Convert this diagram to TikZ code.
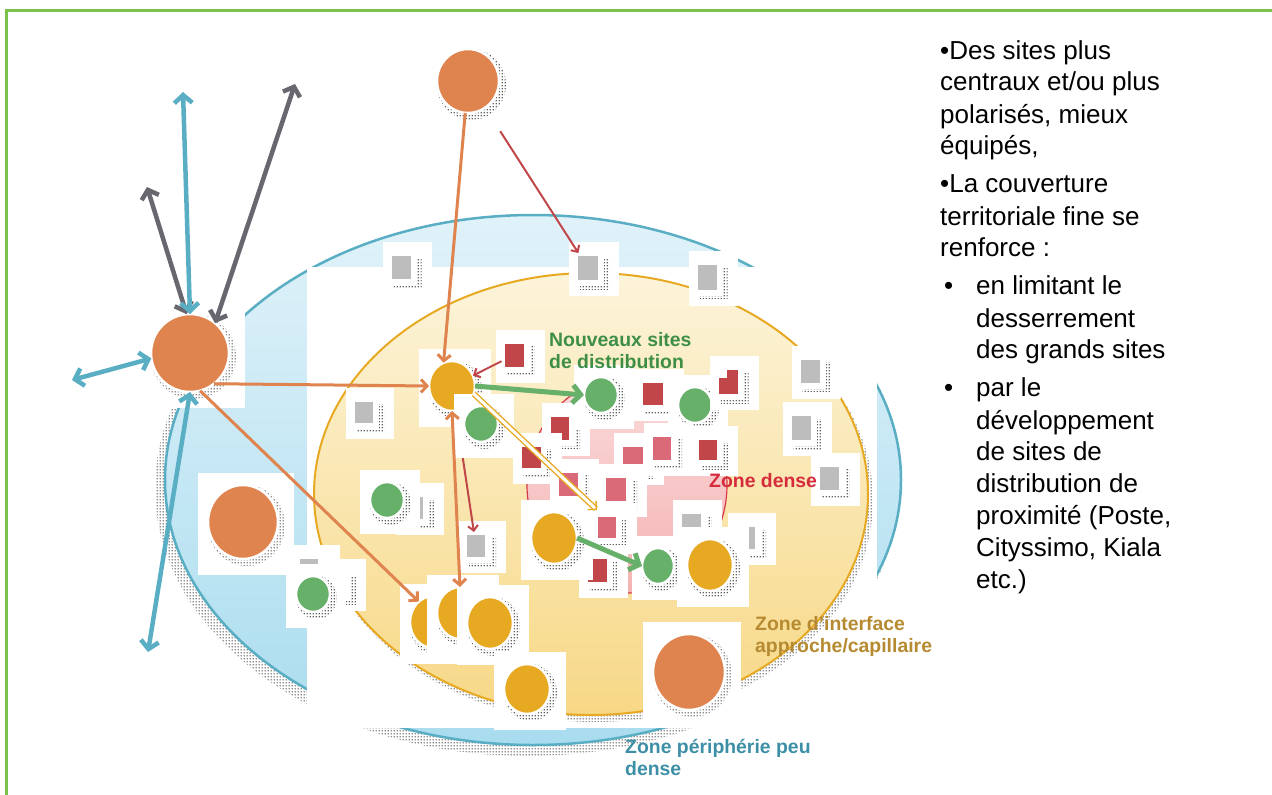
\documentclass[tikz,border=0pt]{standalone}
\usepackage{fontspec}
\setmainfont{Liberation Sans}
\usetikzlibrary{arrows.meta,shapes.geometric,patterns.meta}

\definecolor{cframe}{HTML}{7CC24A}
\definecolor{cblue}{HTML}{5AAEC4}
\definecolor{cbluetop}{HTML}{E0F2F9}
\definecolor{cbluebot}{HTML}{A9DCEF}
\definecolor{cyelline}{HTML}{E8A922}
\definecolor{cyeltop}{HTML}{FCF4DA}
\definecolor{cyelbot}{HTML}{F7D886}
\definecolor{corange}{HTML}{E0844F}
\definecolor{cyellow}{HTML}{E8A922}
\definecolor{cgreen}{HTML}{67B06A}
\definecolor{cgrey}{HTML}{BDBDBD}
\definecolor{cdred}{HTML}{C0464A}
\definecolor{cpink}{HTML}{DB6A78}
\definecolor{cdense}{HTML}{F5B3B3}
\definecolor{cdensetop}{HTML}{FADADA}
\definecolor{cdenseline}{HTML}{D63A48}
\definecolor{carrgrey}{HTML}{68676F}
\definecolor{tgreen}{HTML}{3E8F45}
\definecolor{tred}{HTML}{D52B3C}
\definecolor{tgold}{HTML}{B68A30}
\definecolor{tteal}{HTML}{3D8FA6}

% coarse halftone dots used for the drop shadows
\tikzdeclarepattern{
  name=htdots,
  type=uncolored,
  bounding box={(0pt,0pt) and (3pt,3pt)},
  tile size={(3pt,3pt)},
  code={\pgfpathcircle{\pgfpoint{1.5pt}{1.5pt}}{0.95pt}\pgfusepath{fill}}
}

\tikzset{
  halftone/.style={pattern=htdots, pattern color=black!85},
  roundicon/.style={ellipse, inner sep=0pt, outer sep=0pt, draw=white, line width=2.5pt},
  squareicon/.style={rectangle, inner sep=0pt, outer sep=0pt, draw=white, line width=6pt},
  barrow/.style={cblue, line width=4.5pt,
    {Straight Barb[length=8pt,width=18pt]}-{Straight Barb[length=8pt,width=18pt]}},
  gyarrow/.style={carrgrey, line width=4.5pt,
    {Straight Barb[length=8pt,width=18pt]}-{Straight Barb[length=8pt,width=18pt]}},
  oarrow/.style={corange, line width=3pt, -{Straight Barb[length=6pt,width=13pt]}},
  oarrowboth/.style={corange, line width=3pt,
    {Straight Barb[length=6pt,width=13pt]}-{Straight Barb[length=6pt,width=13pt]}},
  garrow/.style={cgreen, line width=5pt, -{Straight Barb[length=8pt,width=18pt]}},
  rarrow/.style={cdred, line width=2pt, -{Straight Barb[length=5pt,width=10pt]}},
  yarrow/.style={cyellow, line width=1.4pt, double=white, double distance=3pt,
    -{Straight Barb[length=6pt,width=12pt]}},
  zonelabel/.style={anchor=base west, inner sep=0pt,
    font=\fontsize{19.4}{22}\selectfont\bfseries},
}

% round site: name, x, y, x radius, y radius, colour (white backing card + halftone shadow)
\newcommand\roundsite[6]{%
  \fill[white] ({#2-#4-11},{#3-#5-13}) rectangle ({#2+#4+17},{#3+#5+17});
  \fill[halftone] ({#2+3.5},{#3+3.5}) ellipse [x radius={#4+4.5}, y radius={#5+4.5}];
  \node[roundicon, fill=#6, minimum width={2*#4+2}, minimum height={2*#5+2}] (#1) at (#2,#3) {};
}
% square site: name, x, y, half width, half height, colour
\newcommand\squaresite[6]{%
  \fill[white] ({#2-#4-9},{#3-#5-14}) rectangle ({#2+#4+21},{#3+#5+16});
  \fill[halftone] ({#2-#4+2},{#3-#5+3}) rectangle ({#2+#4+11},{#3+#5+9});
  \node[squareicon, fill=#6, minimum width={2*#4+6}, minimum height={2*#5+6}] (#1) at (#2,#3) {};
}

\begin{document}
\begin{tikzpicture}[x=1pt, y=-1pt]
\useasboundingbox (0,0) rectangle (1272,795);

% frame
\draw[cframe, line width=3pt] (6.5,795) -- (6.5,10) -- (1272,10);

% peripheral zone
\fill[halftone] (527,488) ellipse [x radius=372, y radius=268];
\path[draw=cblue, line width=2.5pt, top color=cbluetop, bottom color=cbluebot]
  (533,480) ellipse [x radius=368, y radius=265];
\fill[white] (307,267) rectangle (877,728);

% interface zone
\fill[halftone] (595,500) ellipse [x radius=278, y radius=222];
\path[draw=cyelline, line width=2pt, top color=cyeltop, bottom color=cyelbot]
  (591,494) ellipse [x radius=277, y radius=221];

% dense zone
\path[draw=cdenseline, line width=1.2pt, top color=cdensetop, bottom color=cdense]
  (627,485) ellipse [x radius=100, y radius=108];

% large sites
\roundsite{OT}{468}{81}{30}{31}{corange}
\roundsite{OL}{190}{353}{38}{38}{corange}
\roundsite{OM}{243}{522}{34}{36}{corange}

% small sites
\squaresite{GS1}{401}{267}{9.5}{11.5}{cgrey}
\squaresite{GS2}{588}{268}{10}{12}{cgrey}
\squaresite{GS3}{707}{277}{9.5}{12.5}{cgrey}
\squaresite{GS4}{364}{412}{9}{10.5}{cgrey}
\roundsite{Y1}{452}{386}{22}{24}{cyellow}
\squaresite{R1}{514}{355}{9.5}{11.5}{cdred}
\squaresite{GS5}{476}{546}{9}{11}{cgrey}
\draw[rarrow] (Y1) -- (GS5);
\roundsite{G3}{481}{424}{16}{17}{cgreen}
\squaresite{GS9}{414}{508}{9}{11}{cgrey}
\roundsite{G4}{387}{500}{16}{17}{cgreen}

% dense cluster
\squaresite{P1}{633}{458}{10}{11}{cpink}
\squaresite{R4}{560}{428}{9}{11.5}{cdred}
\squaresite{R2}{653}{394}{10}{11}{cdred}
\roundsite{G1}{601}{395}{16}{17}{cgreen}
\roundsite{G2}{695}{405}{16}{17}{cgreen}
\squaresite{R3}{728}{382}{9.5}{12}{cdred}
\fill[white] (717,368) rectangle (727,378);
\squaresite{P2}{662}{448}{9}{11.5}{cpink}
\squaresite{R6}{708}{450}{9}{10}{cdred}
\squaresite{R5}{531}{457}{9.5}{10.5}{cdred}
\squaresite{P3}{568}{484}{9.5}{11.5}{cpink}
\squaresite{P4}{616}{489}{10}{11.5}{cpink}
\squaresite{P5}{607}{527}{9}{10.5}{cpink}
\squaresite{R7}{597}{570}{9.5}{11.5}{cdred}
\squaresite{GS12}{691}{525}{9.5}{11}{cgrey}
\squaresite{GS13}{746}{538}{9}{11}{cgrey}
\roundsite{Y2}{554}{538}{22}{25}{cyellow}
\roundsite{G6}{658}{566}{15}{17}{cgreen}
\roundsite{Y3}{710}{565}{22}{25}{cyellow}

% right-hand column
\squaresite{GS6}{810}{371}{9.5}{11.5}{cgrey}
\squaresite{GS7}{801}{428}{9.5}{12}{cgrey}
\squaresite{GS8}{829}{478}{9.5}{11.5}{cgrey}

% lower-left group
\squaresite{GS10}{309}{570}{9.5}{11}{cgrey}
\squaresite{GS11}{336}{584}{9}{11}{cgrey}
\roundsite{G5}{313}{594}{16}{17}{cgreen}
\roundsite{Y4a}{433}{622}{22}{25}{cyellow}
\roundsite{Y4b}{460}{613}{22}{25}{cyellow}
\roundsite{Y4c}{490}{623}{22}{25}{cyellow}
\roundsite{Y5}{527}{689}{22}{24}{cyellow}
\roundsite{OB}{689}{672}{35}{37}{corange}

% free ends of the long-distance links
\coordinate (bUp) at (183,92);
\coordinate (bLeft) at (72,380);
\coordinate (bDown) at (148,652);
\coordinate (gLeft) at (147,187);
\coordinate (gRight) at (295,84);
\coordinate (dz) at (597,510);

% flows
\draw[rarrow] (R1) -- (Y1);
\draw[rarrow, shorten <=28pt] (OT) -- (GS2);
\draw[oarrow] (OT) -- (Y1.110);
\draw[oarrow] (OL.-52) -- (Y1.west);
\draw[oarrow] (OL.-75) -- (Y4a.125);
\draw[oarrowboth] (Y1.south) -- (Y4b.north);
\draw[garrow] (Y1.east) -- (G1.west);
\draw[garrow] (Y2.east) -- (G6.west);
\draw[yarrow] (Y1.-20) -- (dz);
\draw[gyarrow] (OL.95) -- (gLeft);
\draw[gyarrow] (OL.50) -- (gRight);
\draw[barrow] (OL.90) -- (bUp);
\draw[barrow] (OL.188) -- (bLeft);
\draw[barrow] (OL.south) -- (bDown);

% zone labels
\node[zonelabel, text=tgreen] (tNew) at (549,346)
  {\parbox[t]{200pt}{\raggedright Nouveaux sites\\de distribution}};
\node[zonelabel, text=tred] (tDense) at (709,487) {Zone dense};
\node[zonelabel, text=tgold] (tInter) at (755,630)
  {\parbox[t]{220pt}{\raggedright Zone d’interface\\approche/capillaire}};
\node[zonelabel, text=tteal] (tPeri) at (625,753)
  {\parbox[t]{220pt}{\raggedright Zone périphérie peu\\dense}};

% commentary
\node[anchor=base west, inner sep=0pt, font=\fontsize{26}{32}\selectfont] (txt) at (940,59)
  {\parbox[t]{330pt}{\raggedright
  \textbullet Des sites plus\\
  centraux et/ou plus\\
  polarisés, mieux\\
  équipés,\\[6pt]
  \textbullet La couverture\\
  territoriale fine se\\
  renforce :\\[6pt]
  \hspace*{4pt}\makebox[32pt][l]{\textbullet}en limitant le\\
  \hspace*{36pt}desserrement\\
  \hspace*{36pt}des grands sites\\[6pt]
  \hspace*{4pt}\makebox[32pt][l]{\textbullet}par le\\
  \hspace*{36pt}développement\\
  \hspace*{36pt}de sites de\\
  \hspace*{36pt}distribution de\\
  \hspace*{36pt}proximité (Poste,\\
  \hspace*{36pt}Cityssimo, Kiala\\
  \hspace*{36pt}etc.)}};
\end{tikzpicture}
\end{document}
